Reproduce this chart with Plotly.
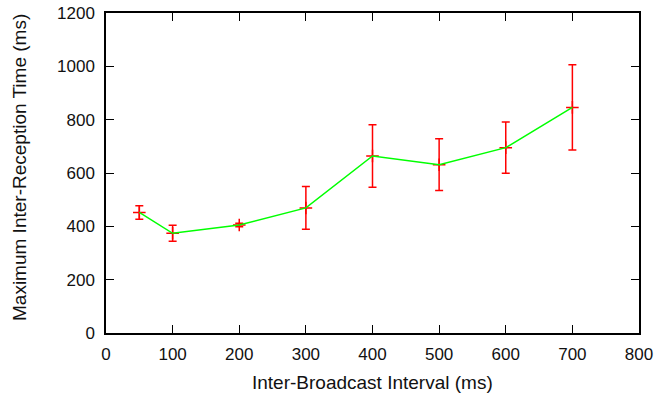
import plotly.graph_objects as go

# Inter-broadcast interval (ms) and measured maximum inter-reception time (ms)
interval_ms = [50, 100, 200, 300, 400, 500, 600, 700]
max_reception_ms = [452, 374, 405, 469, 664, 631, 695, 846]
error_ms = [25, 30, 7, 80, 117, 97, 96, 160]

x_ticks = [0, 100, 200, 300, 400, 500, 600, 700, 800]
y_ticks = [0, 200, 400, 600, 800, 1000, 1200]

x_title = "Inter-Broadcast Interval (ms)"
y_title = "Maximum Inter-Reception Time (ms)"

FONT = "Liberation Sans, Arial, Helvetica, sans-serif"

fig = go.Figure()

# Error bars with a '+' at each mean
fig.add_trace(go.Scatter(
    x=interval_ms, y=max_reception_ms,
    mode="markers",
    marker=dict(symbol="cross-thin", size=9, line=dict(color="#ff0000", width=1.5)),
    error_y=dict(type="data", array=error_ms, visible=True,
                 color="#ff0000", thickness=1.5, width=4),
    showlegend=False,
))

# Connecting line
fig.add_trace(go.Scatter(
    x=interval_ms, y=max_reception_ms,
    mode="lines",
    line=dict(color="#00ff00", width=1.5),
    showlegend=False,
))

axis_common = dict(
    showline=True, linecolor="black", linewidth=1.5, mirror="allticks",
    ticks="inside", ticklen=8, tickwidth=1.2, tickcolor="black",
    showgrid=False, zeroline=False, automargin=False,
    tickfont=dict(family=FONT, size=17, color="#111111"),
)

fig.update_layout(
    width=659, height=396,
    margin=dict(l=106, r=20, t=13, b=63),
    plot_bgcolor="white", paper_bgcolor="white",
    font=dict(family=FONT, size=17, color="#111111"),
    xaxis=dict(range=[0, 800], tickvals=x_ticks, ticklabelstandoff=5, **axis_common),
    yaxis=dict(range=[0, 1200], tickvals=y_ticks, ticklabelstandoff=6, **axis_common),
    annotations=[
        dict(text=x_title, xref="paper", yref="paper", x=0.5, y=0,
             xanchor="center", yanchor="middle", yshift=-49, showarrow=False,
             font=dict(family=FONT, size=19, color="#111111")),
        dict(text=y_title, xref="paper", yref="paper", x=0, y=0.5,
             xanchor="center", yanchor="middle", xshift=-87, yshift=5,
             textangle=-90, showarrow=False,
             font=dict(family=FONT, size=19, color="#111111")),
    ],
)

fig.write_html("out.html")
